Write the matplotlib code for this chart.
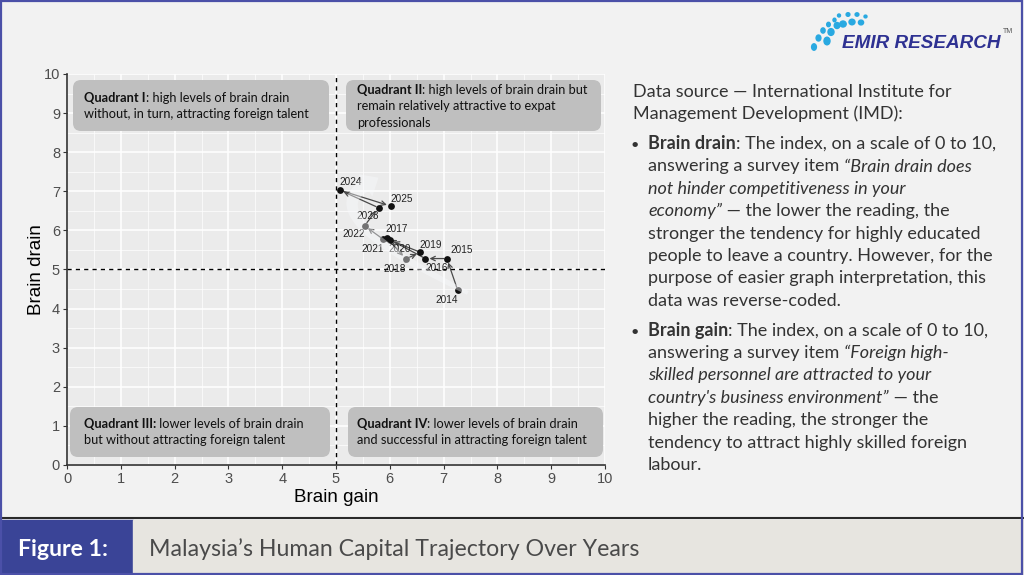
import numpy as np
import matplotlib
matplotlib.use("Agg")
import matplotlib.pyplot as plt
from matplotlib.patches import FancyBboxPatch, Rectangle, Ellipse, Polygon
from matplotlib.font_manager import FontProperties
import matplotlib.transforms as mtransforms

# ---------------- data ----------------
years = [2014, 2015, 2016, 2017, 2018, 2019, 2020, 2021, 2022, 2023, 2024, 2025]
brain_gain = [7.26, 7.06, 6.66, 5.94, 6.30, 6.57, 6.00, 5.88, 5.53, 5.79, 5.07, 6.02]
brain_drain = [4.48, 5.28, 5.28, 5.81, 5.27, 5.44, 5.75, 5.77, 6.12, 6.58, 7.03, 6.62]
axis_ticks = list(range(0, 11))

# label offsets (points) for year labels
label_off = {2014: (-8, -7), 2015: (11, 6), 2016: (8, -7), 2017: (7, 6), 2018: (-8, -7),
             2019: (7, 5), 2020: (7, -6), 2021: (-8, -7), 2022: (-8, -6), 2023: (-8, -6),
             2024: (8, 6), 2025: (8, 5)}

W, H = 1024, 575
fig = plt.figure(figsize=(W / 100, H / 100), dpi=100, facecolor="#f2f2f2")
renderer = fig.canvas.get_renderer()
ID = mtransforms.IdentityTransform()


def pw(s, fp):
    a = renderer.get_text_width_height_descent(s + "|", fp, ismath=False)[0]
    b = renderer.get_text_width_height_descent("|", fp, ismath=False)[0]
    return a - b


def fit(s, family, target, weight="normal", style="normal"):
    fp = FontProperties(family=family, size=10, weight=weight, style=style)
    return 10 * target / pw(s, fp)


def rich(x, y, segs, size, family, color="#222222"):
    for s, weight, style in segs:
        fp = FontProperties(family=family, size=size, weight=weight, style=style)
        fig.text(x / W, 1 - y / H, s, fontproperties=fp, color=color, va="baseline", ha="left")
        x += pw(s, fp)


# ---------------- frame and bottom bar ----------------
fig.patches.append(Rectangle((0, 0), 133 / W, 55 / H, transform=fig.transFigure, color="#3a4497", zorder=1))
fig.patches.append(Rectangle((133 / W, 0), 1 - 133 / W, 55 / H, transform=fig.transFigure, color="#e7e5e0", zorder=1))
fig.add_artist(plt.Line2D([0, 1], [1 - 518 / H, 1 - 518 / H], transform=fig.transFigure, color="#2a2a2a", lw=1.5))
fig.patches.append(Rectangle((0.001, 0.002), 0.997, 0.996, transform=fig.transFigure, fill=False,
                             edgecolor="#4b50a8", lw=1.6, zorder=10))

fs_fig = fit("Figure 1:", "Lato", 90, weight="bold")
fig.text(18 / W, 1 - 549 / H, "Figure 1:", fontsize=fs_fig, family="Lato", weight="bold",
         color="white", va="center", ha="left")
title = "Malaysia\u2019s Human Capital Trajectory Over Years"
fs_t = fit(title, "Lato", 489)
fig.text(149 / W, 1 - 549 / H, title, fontsize=fs_t, family="Lato", color="#4a4a4a",
         va="center", ha="left")

# ---------------- logo ----------------
dots = [(814, 47, 2.4, 3.2), (818.5, 38, 2.4, 3.0), (823, 30.5, 2.1, 2.6), (828.5, 24.5, 1.8, 2.2),
        (834.5, 20, 1.5, 1.8),
        (827, 41, 3.0, 3.8), (831, 32, 3.0, 3.4), (837, 25.5, 2.8, 3.0),
        (839, 15.5, 1.5, 1.5), (848, 14.5, 1.9, 1.8), (857, 14.5, 1.9, 1.7), (865.5, 16.5, 1.5, 1.4),
        (843, 24, 3.2, 3.0), (852, 22, 3.0, 2.8), (861, 22.5, 2.6, 2.4)]
for (cx, cy, rx, ry) in dots:
    fig.patches.append(Ellipse((cx / W, 1 - cy / H), 2 * rx / W, 2 * ry / H,
                               transform=fig.transFigure, color="#29a9e1"))
fs_logo = fit("EMIR RESEARCH", "Liberation Sans", 158, weight="bold", style="italic")
fig.text(842 / W, 1 - 48 / H, "EMIR RESEARCH", fontsize=fs_logo, family="Liberation Sans",
         weight="bold", style="italic", color="#2e3192", va="baseline", ha="left")
fig.text(1003 / W, 1 - 33 / H, "TM", fontsize=5, family="Liberation Sans", color="#555555",
         va="baseline", ha="left")

# ---------------- axes ----------------
ax = fig.add_axes([67 / W, 1 - 465 / H, 538 / W, 391 / H])
ax.set_facecolor("#ebebeb")
ax.set_xlim(0, 10)
ax.set_ylim(0, 10)
ax.set_xticks(axis_ticks)
ax.set_yticks(axis_ticks)
ax.set_xticks(np.arange(0.5, 10, 1), minor=True)
ax.set_yticks(np.arange(0.5, 10, 1), minor=True)
ax.grid(which="major", color="white", lw=1.1)
ax.grid(which="minor", color="white", lw=0.5)
ax.set_axisbelow(True)
for s in ["top", "right"]:
    ax.spines[s].set_visible(False)
for s in ["left", "bottom"]:
    ax.spines[s].set_color("#333333")
    ax.spines[s].set_linewidth(1.2)
ax.tick_params(which="minor", length=0)
ax.tick_params(which="major", length=3, color="#333333", labelsize=10.5, labelcolor="#4d4d4d", pad=2)
for lab in ax.get_xticklabels() + ax.get_yticklabels():
    lab.set_family("Liberation Sans")
ax.set_xlabel("Brain gain", fontsize=13.5, family="Liberation Sans", color="black", labelpad=2)
ax.set_ylabel("Brain drain", fontsize=13.5, family="Liberation Sans", color="black", labelpad=-1)

ax.axvline(5, color="black", ls=(0, (3, 3)), lw=1.0, zorder=2)
ax.axhline(5, color="black", ls=(0, (3, 3)), lw=1.0, zorder=2)

for i in range(len(years) - 1):
    ax.annotate("", xy=(brain_gain[i + 1], brain_drain[i + 1]), xytext=(brain_gain[i], brain_drain[i]),
                arrowprops=dict(arrowstyle="->", color="#4a4a4a", lw=0.9, shrinkA=2, shrinkB=3,
                                mutation_scale=8), zorder=3)
ax.scatter(brain_gain, brain_drain, s=24, color="#111111", zorder=5, linewidths=0)
for yr, xg, yd in zip(years, brain_gain, brain_drain):
    dx, dy = label_off[yr]
    ax.annotate(str(yr), (xg, yd), xytext=(dx, dy), textcoords="offset points", fontsize=7.2,
                family="Liberation Sans", color="#222222", ha="center", va="center", zorder=6)

# translucent curved trend arrow drawn over the trajectory (cubic bezier, display space)
ctrl = np.array([[7.45, 4.40], [6.60, 5.00], [4.60, 6.40], [5.55, 7.15]])
cd = ax.transData.transform(ctrl)
t = np.linspace(0, 1, 80)[:, None]
pts = ((1 - t) ** 3) * cd[0] + 3 * ((1 - t) ** 2) * t * cd[1] + 3 * (1 - t) * t ** 2 * cd[2] + t ** 3 * cd[3]
tan = np.gradient(pts, axis=0)
tan /= np.linalg.norm(tan, axis=1)[:, None]
nrm = np.column_stack([-tan[:, 1], tan[:, 0]])
hw = np.linspace(2.0, 6.5, len(pts))[:, None]
left = pts + nrm * hw
right = pts - nrm * hw
tip = pts[-1] + tan[-1] * 15
head = [pts[-1] + nrm[-1] * 13, tip, pts[-1] - nrm[-1] * 13]
poly = np.vstack([left, head, right[::-1]])
band = Polygon(poly, closed=True, transform=ID, facecolor="#f9fafd", edgecolor="none",
               alpha=0.42, zorder=7)
ax.add_patch(band)
band.set_transform(ID)

# quadrant boxes
qfs = fit("Quadrant I: high levels of brain drain", "Lato", 204)
boxes = [(73, 80, 256, 51), (346, 80, 255, 51), (70, 407, 260, 50), (348, 407, 255, 50)]
for (bx, by, bw, bh) in boxes:
    p = FancyBboxPatch((bx, H - by - bh), bw, bh, boxstyle="round,pad=0,rounding_size=8",
                       transform=ID, facecolor="#bfbfbf", edgecolor="none", zorder=4)
    ax.add_patch(p)
    p.set_transform(ID)

B, N, I = "bold", "normal", "italic"
qc = "#111111"
rich(84, 102, [("Quadrant I", B, N), (": high levels of brain drain", N, N)], qfs, "Lato", qc)
rich(84, 118.5, [("without, in turn, attracting foreign talent", N, N)], qfs, "Lato", qc)
rich(357, 94, [("Quadrant II", B, N), (": high levels of brain drain but", N, N)], qfs, "Lato", qc)
rich(357, 110.5, [("remain relatively attractive to expat", N, N)], qfs, "Lato", qc)
rich(357, 127, [("professionals", N, N)], qfs, "Lato", qc)
rich(84, 428, [("Quadrant III:", B, N), (" lower levels of brain drain", N, N)], qfs, "Lato", qc)
rich(84, 444.5, [("but without attracting foreign talent", N, N)], qfs, "Lato", qc)
rich(357, 428, [("Quadrant IV", B, N), (": lower levels of brain drain", N, N)], qfs, "Lato", qc)
rich(357, 444.5, [("and successful in attracting foreign talent", N, N)], qfs, "Lato", qc)

# ---------------- right-hand text ----------------
rfs = fit("stronger the tendency for highly educated", "Lato", 333)
col = "#333333"
rich(633, 97, [("Data source \u2014 International Institute for", N, N)], rfs, "Lato", col)
rich(633, 119.4, [("Management Development (IMD):", N, N)], rfs, "Lato", col)
b1 = [
    [("Brain drain", B, N), (": The index, on a scale of 0 to 10,", N, N)],
    [("answering a survey item ", N, N), ("\u201cBrain drain does", N, I)],
    [("not hinder competitiveness in your", N, I)],
    [("economy\u201d", N, I), (" \u2014 the lower the reading, the", N, N)],
    [("stronger the tendency for highly educated", N, N)],
    [("people to leave a country. However, for the", N, N)],
    [("purpose of easier graph interpretation, this", N, N)],
    [("data was reverse-coded.", N, N)],
]
b2 = [
    [("Brain gain", B, N), (": The index, on a scale of 0 to 10,", N, N)],
    [("answering a survey item ", N, N), ("\u201cForeign high-", N, I)],
    [("skilled personnel are attracted to your", N, I)],
    [("country's business environment\u201d", N, I), (" \u2014 the", N, N)],
    [("higher the reading, the stronger the", N, N)],
    [("tendency to attract highly skilled foreign", N, N)],
    [("labour.", N, N)],
]
for y0, block in [(149.1, b1), (335.6, b2)]:
    rich(631, y0, [("\u2022", N, N)], rfs * 0.8, "Lato", col)
    for k, segs in enumerate(block):
        rich(648, y0 + 22.4 * k, segs, rfs, "Lato", col)

fig.savefig("out.png", dpi=100, facecolor=fig.get_facecolor())
